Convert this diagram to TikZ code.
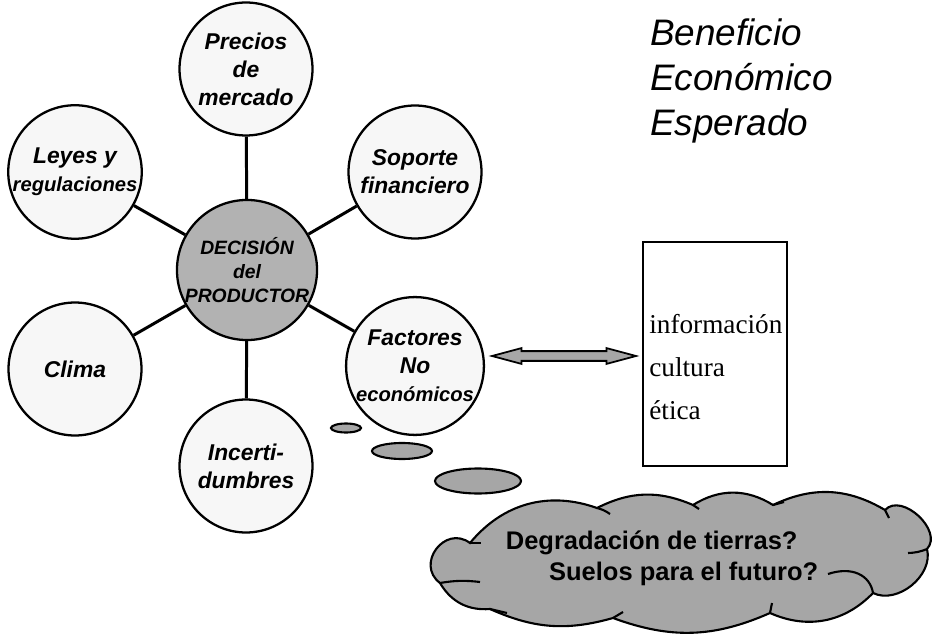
\documentclass[tikz,border=0pt]{standalone}
\usepackage{fontspec}
\setmainfont{Liberation Sans}
\newfontfamily\boxserif{Liberation Serif}
\usetikzlibrary{shapes.geometric, shapes.arrows}

\definecolor{circfill}{RGB}{247,247,247}
\definecolor{decfill}{RGB}{178,178,178}
\definecolor{nubefill}{RGB}{166,166,166}

\begin{document}
\begin{tikzpicture}[
            x=0.02cm, y=-0.02cm,
            factor/.style={circle, draw, line width=1.3pt, fill=circfill, minimum size=2.66cm,
                inner sep=0pt, align=center, font=\bfseries\itshape\fontsize{13}{16}\selectfont},
            centro/.style={factor, fill=decfill, font=\bfseries\itshape\fontsize{11}{13.6}\selectfont},
            link/.style={line width=1.7pt},
            bubble/.style={ellipse, draw, line width=1.2pt, fill=nubefill, inner sep=0pt},
            nubeline/.style={line width=1.2pt}
        ]
        \useasboundingbox (0,0) rectangle (936,638);

        % coordinates
        \coordinate (c)   at (247,270);
        \coordinate (n)   at (246,69);
        \coordinate (nw)  at (75,172);
        \coordinate (ne)  at (415,172);
        \coordinate (sw)  at (75,369);
        \coordinate (se)  at (415,366);
        \coordinate (s)   at (246,466);

        % circles
        \node[centro] (dec) at (c)  {DECISIÓN\\del\\PRODUCTOR};
        \node[factor] (pre) at (n)  {Precios\\de\\mercado};
        \node[factor] (ley) at (nw) {Leyes y\\{\fontsize{11.5}{16}\selectfont regulaciones}};
        \node[factor] (sop) at (ne) {Soporte\\financiero};
        \node[factor] (cli) at (sw) {Clima};
        \node[factor] (fac) at (se) {Factores\\No\\{\fontsize{11.5}{16}\selectfont económicos}};
        \node[factor] (inc) at (s)  {Incerti-\\dumbres};

        % edges
        \draw[link] (dec) -- (pre);
        \draw[link] (dec) -- (ley);
        \draw[link] (dec) -- (sop);
        \draw[link] (dec) -- (cli);
        \draw[link] (dec) -- (fac);
        \draw[link] (dec) -- (inc);

        % box and arrow
        \node[draw, line width=1.2pt, minimum width=2.88cm, minimum height=4.48cm] (info) at (715,354) {};
        \node[anchor=west, align=left, inner sep=0pt, font=\boxserif\fontsize{15.5}{24.5}\selectfont]
            (lista) at (649,367) {información\\cultura\\ética};
        \node[double arrow, draw, line width=1pt, fill=nubefill, minimum height=2.88cm,
            inner xsep=0pt, inner ysep=0.08cm, double arrow head extend=0.06cm,
            double arrow tip angle=30] (flecha) at (564,356) {};

        % title
        \node[anchor=north west, align=left, inner sep=0pt,
            font=\itshape\fontsize{21}{25.8}\selectfont] (titulo) at (650,18)
            {Beneficio\\Económico\\Esperado};

        % thought bubbles
        \node[bubble, minimum width=0.6cm, minimum height=0.18cm] (b1) at (346,428) {};
        \node[bubble, minimum width=1.2cm, minimum height=0.32cm] (b2) at (402,451) {};
        \node[bubble, minimum width=1.72cm, minimum height=0.5cm] (b3) at (478,481) {};

        % cloud
        \coordinate (k1)  at (470,543);
        \coordinate (k2)  at (597,508);
        \coordinate (k3)  at (693,505);
        \coordinate (k4)  at (773,505);
        \coordinate (k5)  at (885,510);
        \coordinate (k6)  at (927,549);
        \coordinate (k7)  at (873,593);
        \coordinate (k8)  at (770,613);
        \coordinate (k9)  at (613,618);
        \coordinate (k10) at (490,609);
        \coordinate (k11) at (440,583);

        \draw[nubeline, fill=nubefill] (k1)
            to[bend left=35] (k2)
            to[bend left=25] (k3)
            to[bend left=32] (k4)
            to[bend left=28] (k5)
            to[bend left=90, looseness=1.1] (k6)
            to[bend left=65] (k7)
            to[bend left=35] (k8)
            to[bend left=22] (k9)
            to[bend left=20] (k10)
            to[bend left=32] (k11)
            to[bend left=90, looseness=1.6] (k1) -- cycle;

        % inner strokes of the cloud
        \draw[nubeline] (k1) -- (481,543);
        \draw[nubeline] (k2) to[bend left=10] (610,514);
        \draw[nubeline] (k3) -- (699,509);
        \draw[nubeline] (k4) -- (784,502);
        \draw[nubeline] (k5) -- (889,518);
        \draw[nubeline] (k6) to[bend left=10] (908,553);
        \draw[nubeline] (828,574) .. controls (852,566) and (870,575) .. (k7);
        \draw[nubeline] (k8) -- (772,603);
        \draw[nubeline] (k9) -- (623,612);
        \draw[nubeline] (k10) -- (507,613);
        \draw[nubeline] (k11) to[bend left=8] (480,582);

        \node[align=left, inner sep=0pt, font=\bfseries\fontsize{14.5}{17.5}\selectfont]
            (degr) at (662,558) {Degradación de tierras?\\\hspace*{1.7em}Suelos para el futuro?};
    \end{tikzpicture}
\end{document}
